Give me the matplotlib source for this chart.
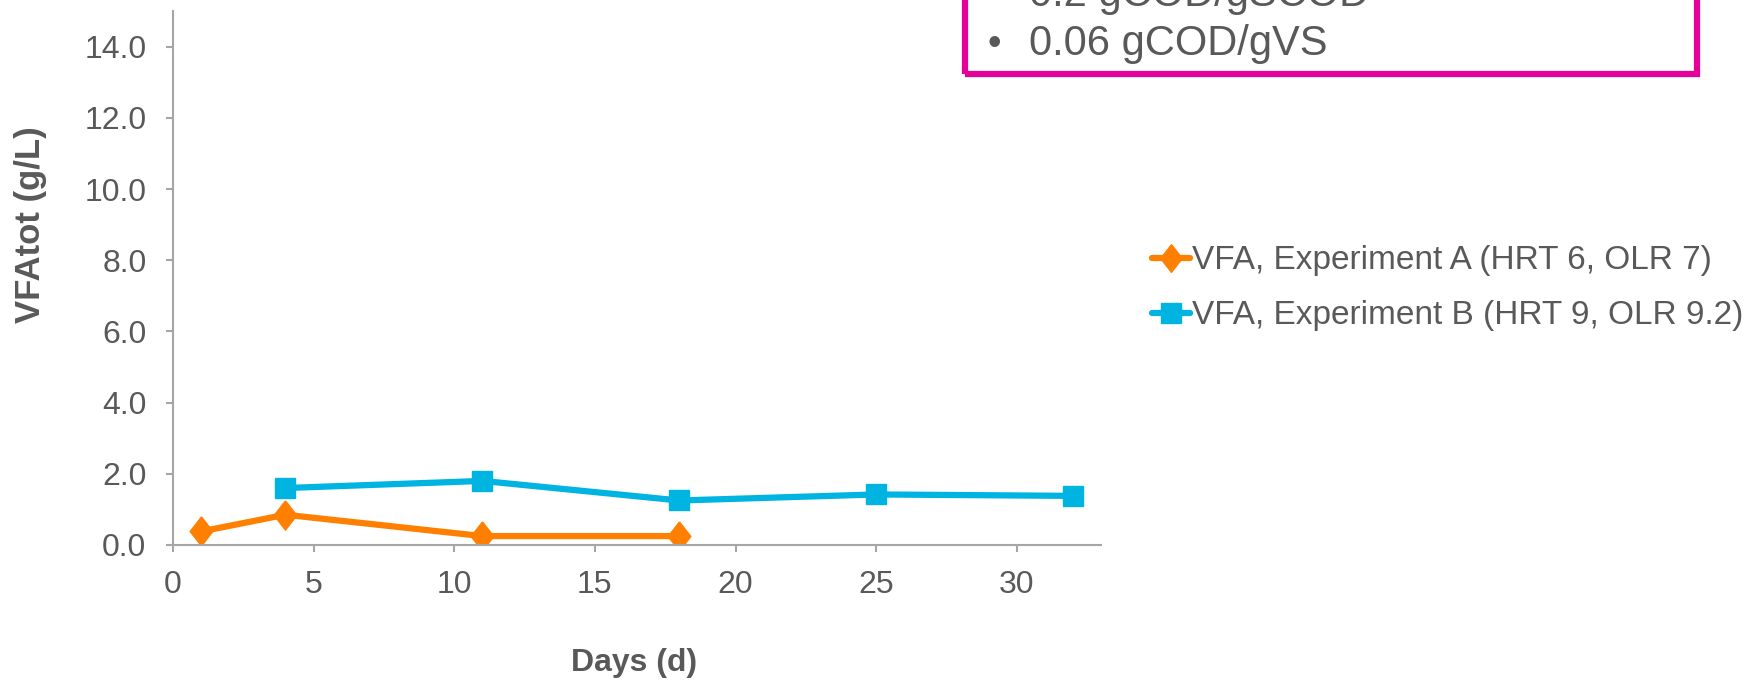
import matplotlib
matplotlib.use("Agg")
import matplotlib.pyplot as plt
from matplotlib.patches import Rectangle

# VFA measurements (g/L) against day of run
days_a = [1, 4, 11, 18]
vfa_a = [0.38, 0.85, 0.25, 0.25]
days_b = [4, 11, 18, 25, 32]
vfa_b = [1.60, 1.80, 1.25, 1.42, 1.38]

label_a = "VFA, Experiment A (HRT 6, OLR 7)"
label_b = "VFA, Experiment B (HRT 9, OLR 9.2)"
box_lines = ["0.2 gCOD/gSCOD", "0.06 gCOD/gVS"]

yticks = [0, 2, 4, 6, 8, 10, 12, 14]
xticks = [0, 5, 10, 15, 20, 25, 30]

TEXT = "#595959"
AXIS = "#a6a6a6"
ORANGE = "#ff8000"
BLUE = "#00b4e2"
MAGENTA = "#e5009a"

# slightly slim diamond like the office marker
DIAMOND = [(0, 1), (0.78, 0), (0, -1), (-0.78, 0), (0, 1)]

plt.rcParams["font.family"] = ["Liberation Sans", "DejaVu Sans"]

fig = plt.figure(figsize=(17.48, 6.82), dpi=100)
ax = fig.add_axes([0.0989, 0.2009, 0.5311, 0.7828])

ax.plot(days_a, vfa_a, color=ORANGE, lw=4.5, marker=DIAMOND, ms=21,
        label=label_a, solid_capstyle="round")
ax.plot(days_b, vfa_b, color=BLUE, lw=4.5, marker="s", ms=15,
        label=label_b, solid_capstyle="round")

ax.set_xlim(0, 33)
ax.set_ylim(0, 15)
ax.set_xticks(xticks)
ax.set_yticks(yticks)
ax.set_yticklabels(["%.1f" % v for v in yticks])

for s in ["top", "right"]:
    ax.spines[s].set_visible(False)
for s in ["left", "bottom"]:
    ax.spines[s].set_color(AXIS)
    ax.spines[s].set_linewidth(1.5)

ax.tick_params(axis="both", colors=AXIS, labelcolor=TEXT, labelsize=23,
               length=5, width=1.5, direction="out")
ax.tick_params(axis="y", pad=14)
ax.tick_params(axis="x", pad=13)

fig.text(0.0177, 0.67, "VFAtot (g/L)", rotation=90, fontsize=25,
         fontweight="bold", color=TEXT, ha="center", va="center")
fig.text(0.363, 0.028, "Days (d)", fontsize=23, fontweight="bold",
         color=TEXT, ha="center", va="center")

leg = fig.legend(loc="center left", bbox_to_anchor=(0.659, 0.577),
                 frameon=False, fontsize=24, handlelength=1.14,
                 handletextpad=0.05, labelspacing=0.72, borderpad=0,
                 borderaxespad=0, markerscale=0.95)
for t in leg.get_texts():
    t.set_color(TEXT)

# note box in the upper right, its top runs off the figure
box = Rectangle((965 / 1748, 1 - 74 / 682), (1697 - 965) / 1748, 0.2,
                transform=fig.transFigure, fill=False, edgecolor=MAGENTA,
                lw=4.5, clip_on=True)
fig.patches.append(box)
for i, line in enumerate(box_lines):
    y = 1 - (55 - 49 * (len(box_lines) - 1 - i)) / 682
    fig.text(988 / 1748, y, "\u2022", fontsize=28, color=TEXT,
             ha="left", va="baseline")
    fig.text(1029 / 1748, y, line, fontsize=30, color=TEXT,
             ha="left", va="baseline")

fig.savefig("out.png", dpi=100)
